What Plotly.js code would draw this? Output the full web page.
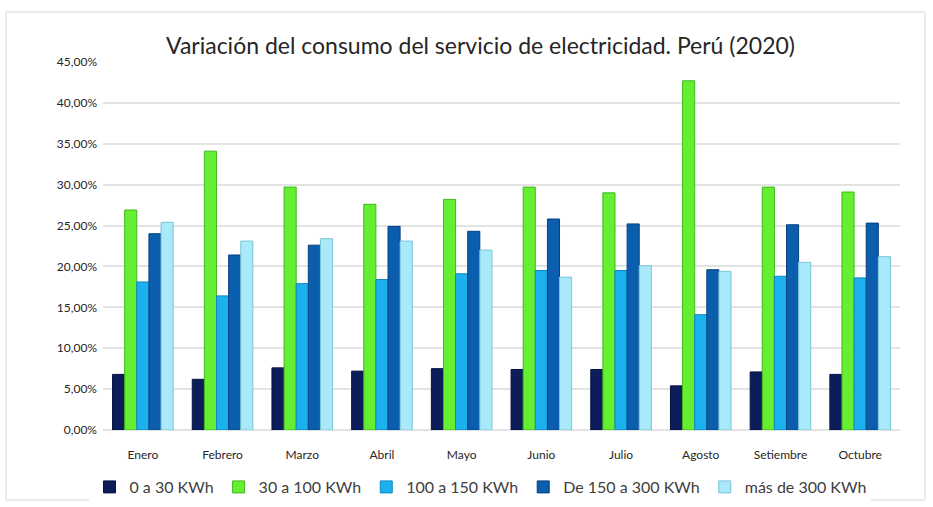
<!DOCTYPE html>
<html><head><meta charset="utf-8">
<script src="https://cdn.plot.ly/plotly-3.0.1.min.js"></script>
<style>html,body{margin:0;padding:0;background:#fff}#c{width:933px;height:507px}</style>
</head><body><div id="c"></div>
<script>
const months = ["Enero","Febrero","Marzo","Abril","Mayo","Junio","Julio","Agosto","Setiembre","Octubre"];
const s0a30 =    [6.8, 6.2, 7.6, 7.2, 7.5, 7.4, 7.4, 5.4, 7.1, 6.8];
const s30a100 =  [26.9, 34.1, 29.7, 27.6, 28.2, 29.7, 29.0, 42.7, 29.7, 29.1];
const s100a150 = [18.1, 16.4, 17.9, 18.4, 19.1, 19.5, 19.5, 14.1, 18.8, 18.6];
const s150a300 = [24.0, 21.4, 22.6, 24.9, 24.3, 25.8, 25.2, 19.6, 25.1, 25.3];
const sMas300 =  [25.4, 23.1, 23.4, 23.1, 22.0, 18.7, 20.1, 19.4, 20.5, 21.2];
const names = ["0 a 30 KWh","30 a 100 KWh","100 a 150 KWh","De 150 a 300 KWh","más de 300 KWh"];
const colors = ["#0c1d5a","#66ee33","#1bb0ee","#0b5eae","#a9e9f9"];
const lines = ["#061240","#3fb81c","#0f88c0","#07427c","#7cc4d8"];
const series = [s0a30, s30a100, s100a150, s150a300, sMas300];

const traces = series.map((vals, i) => ({
  type: "bar", x: months, y: vals, name: names[i],
  marker: {color: colors[i], line: {color: lines[i], width: 1}},
  hoverinfo: "skip"
}));

const F = "Lato, 'Open Sans', sans-serif";
const L = 103, R = 33, T = 62, B = 77, PH = 507 - T - B, PW = 933 - L - R;
const layout = {
  width: 933, height: 507,
  margin: {l: L, r: R, t: T, b: B, autoexpand: false},
  paper_bgcolor: "#fff", plot_bgcolor: "#fff",
  separators: ",.",
  barmode: "group", bargap: 0.24, bargroupgap: 0,
  showlegend: true,
  title: {text: "Variación del consumo del servicio de electricidad. Perú (2020)",
          font: {family: F, size: 23, color: "#262626"}, x: 0.515, xanchor: "center", y: 0.91, yanchor: "middle"},
  xaxis: {showgrid: false, zeroline: false, showline: false, ticks: "",
          tickfont: {family: F, size: 12, color: "#262626"}, ticklabelstandoff: 16},
  yaxis: {range: [0, 45], dtick: 5, tickformat: ".2f", ticksuffix: "%",
          showgrid: true, gridcolor: "#e3e3e3", gridwidth: 2, zeroline: true, zerolinecolor: "#e3e3e3", zerolinewidth: 2,
          showline: false, ticks: "", ticklabelstandoff: 5,
          tickfont: {family: F, size: 12, color: "#262626"}},
  legend: {orientation: "h", xref: "container", yref: "container", x: 0.515, xanchor: "center",
           y: 1 - 487 / 507, yanchor: "middle",
           font: {family: F, size: 16, color: "#404040"}, itemwidth: 30, tracegroupgap: 0},
  shapes: [{type: "rect", xref: "paper", yref: "paper",
            x0: (6 - L) / PW, x1: (925 - L) / PW, y0: -(500 - 430) / PH, y1: (430 - 12) / PH,
            line: {color: "#d9d9d9", width: 1}, layer: "below"}]
};
Plotly.newPlot("c", traces, layout, {displayModeBar: false, staticPlot: true});
</script></body></html>
